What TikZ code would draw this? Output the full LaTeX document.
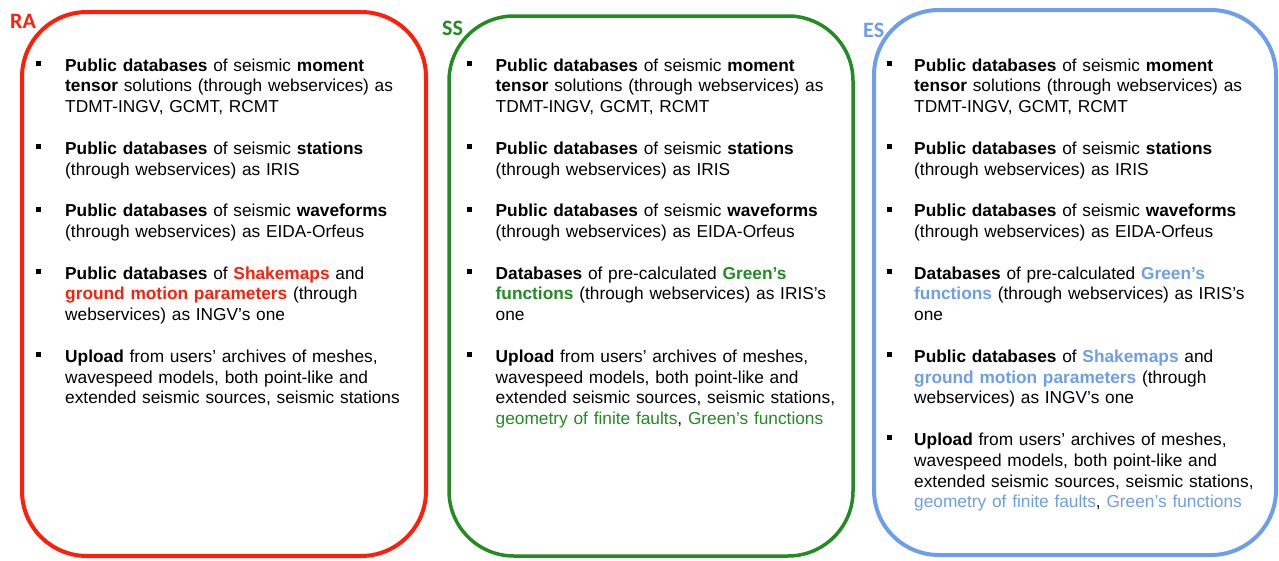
\documentclass[tikz,border=0pt]{standalone}
\usepackage{fontspec}
\setmainfont{Liberation Sans}
\newfontfamily\labelfont{Carlito}
\definecolor{rared}{RGB}{255,30,10}
\definecolor{ssgreen}{RGB}{34,139,34}
\definecolor{esblue}{RGB}{109,158,235}
% bold coloured keyword, plain coloured keyword
\newcommand{\kw}[2]{\textbf{\textcolor{#1}{#2}}}
\newcommand{\kc}[2]{\textcolor{#1}{#2}}
% small square bullet to the left of an item's first line
\newcommand{\itembullet}[2]{\fill[shift={(#1.base west)}] (#2,-10) rectangle ++(4.6,5);}
\begin{document}
\begin{tikzpicture}[x=1pt,y=-1pt,
  panel/.style={rounded corners=65pt},
  item/.style={anchor=base west, inner sep=0pt, text width=430pt, align=left,
    font=\fontsize{17.3}{20.8}\selectfont},
  tag/.style={anchor=base west, inner sep=0pt, font=\labelfont\bfseries\fontsize{22}{26}\selectfont}]
\useasboundingbox (0,0) rectangle (1279,560);

% panels
\draw[panel, rared, line width=4pt] (22,12) rectangle (426,556);
\draw[panel, ssgreen, line width=3.5pt] (449,16) rectangle (853,556);
\draw[panel, esblue, line width=4pt] (874,10) rectangle (1276,555);

% panel tags
\node[tag, text=rared] (tra) at (10,28) {RA};
\node[tag, text=ssgreen] (tss) at (442,35) {SS};
\node[tag, text=esblue] (tes) at (863,37) {ES};

% ---- RA ----
\node[item] (ra1) at (65,71) {\textbf{Public databases} of seismic \textbf{moment}\\
\textbf{tensor} solutions (through webservices) as\\ TDMT-INGV, GCMT, RCMT};
\node[item] (ra2) at (65,154.2) {\textbf{Public databases} of seismic \textbf{stations}\\
(through webservices) as IRIS};
\node[item] (ra3) at (65,216.6) {\textbf{Public databases} of seismic \textbf{waveforms}\\
(through webservices) as EIDA-Orfeus};
\node[item] (ra4) at (65,279) {\textbf{Public databases} of \kw{rared}{Shakemaps} and\\
\kw{rared}{ground motion parameters} (through\\ webservices) as INGV’s one};
\node[item] (ra5) at (65,362.2) {\textbf{Upload} from users’ archives of meshes,\\
wavespeed models, both point-like and\\ extended seismic sources, seismic stations};
\foreach \n in {ra1,ra2,ra3,ra4,ra5}{\itembullet{\n}{-29}}

% ---- SS ----
\node[item] (ss1) at (495.5,71) {\textbf{Public databases} of seismic \textbf{moment}\\
\textbf{tensor} solutions (through webservices) as\\ TDMT-INGV, GCMT, RCMT};
\node[item] (ss2) at (495.5,154.2) {\textbf{Public databases} of seismic \textbf{stations}\\
(through webservices) as IRIS};
\node[item] (ss3) at (495.5,216.6) {\textbf{Public databases} of seismic \textbf{waveforms}\\
(through webservices) as EIDA-Orfeus};
\node[item] (ss4) at (495.5,279) {\textbf{Databases} of pre-calculated \kw{ssgreen}{Green’s}\\
\kw{ssgreen}{functions} (through webservices) as IRIS’s\\ one};
\node[item] (ss5) at (495.5,362.2) {\textbf{Upload} from users’ archives of meshes,\\
wavespeed models, both point-like and\\ extended seismic sources, seismic stations,\\
\kc{ssgreen}{geometry of finite faults}, \kc{ssgreen}{Green’s functions}};
\foreach \n in {ss1,ss2,ss3,ss4,ss5}{\itembullet{\n}{-28.5}}

% ---- ES ----
\node[item] (es1) at (914,71) {\textbf{Public databases} of seismic \textbf{moment}\\
\textbf{tensor} solutions (through webservices) as\\ TDMT-INGV, GCMT, RCMT};
\node[item] (es2) at (914,154.2) {\textbf{Public databases} of seismic \textbf{stations}\\
(through webservices) as IRIS};
\node[item] (es3) at (914,216.6) {\textbf{Public databases} of seismic \textbf{waveforms}\\
(through webservices) as EIDA-Orfeus};
\node[item] (es4) at (914,279) {\textbf{Databases} of pre-calculated \kw{esblue}{Green’s}\\
\kw{esblue}{functions} (through webservices) as IRIS’s\\ one};
\node[item] (es5) at (914,362.2) {\textbf{Public databases} of \kw{esblue}{Shakemaps} and\\
\kw{esblue}{ground motion parameters} (through\\ webservices) as INGV’s one};
\node[item] (es6) at (914,445.4) {\textbf{Upload} from users’ archives of meshes,\\
wavespeed models, both point-like and\\ extended seismic sources, seismic stations,\\
\kc{esblue}{geometry of finite faults}, \kc{esblue}{Green’s functions}};
\foreach \n in {es1,es2,es3,es4,es5,es6}{\itembullet{\n}{-27}}
\end{tikzpicture}
\end{document}
